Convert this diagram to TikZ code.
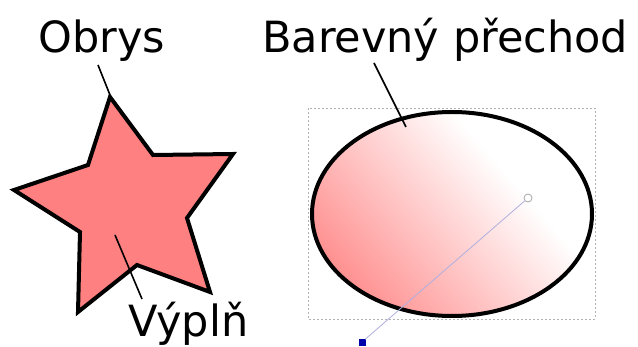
\documentclass[tikz,border=0pt]{standalone}
\usepackage{fontspec}
\setmainfont{DejaVu Sans}
\definecolor{starpink}{RGB}{255,128,128}
\definecolor{handleline}{RGB}{175,175,225}
\definecolor{handleblue}{RGB}{0,0,170}
\tikzset{
	lbl/.style={inner sep=0pt, anchor=base west, font=\fontsize{43}{50}\selectfont},
	outline/.style={line width=4pt, line join=miter},
	leader/.style={line width=1.6pt},
	selbox/.style={gray!60, line width=0.8pt, dash pattern=on 2pt off 2pt},
}
\begin{document}
\begin{tikzpicture}[x=1pt,y=-1pt]
	\useasboundingbox (0,0) rectangle (638,347);
	\filldraw[fill=starpink, outline] (110,97) -- (153,155) -- (233,154) -- (187,218) -- (210,292) -- (137,265) -- (78,312) -- (80,232) -- (14,190) -- (88,165) -- cycle;
	\draw[selbox] (308,108) rectangle (595,319);
	\begin{scope}
		\clip (452,214) ellipse [x radius=140, y radius=102];
		\fill[white] (300,100) rectangle (600,330);
		\begin{scope}[transform canvas={shift={(362,342)}, rotate=41}]
			\fill[starpink] (-300,-300) rectangle (0,300);
			\shade[left color=starpink, right color=white] (0,-300) rectangle (220,300);
		\end{scope}
	\end{scope}
	\draw[outline] (452,214) ellipse [x radius=140, y radius=102];
	\node[lbl] (obrys) at (38,53) {Obrys};
	\node[lbl] (barevny) at (262,53) {Barevný přechod};
	\node[lbl] (vypln) at (128,337) {Výplň};
	\coordinate (obrysfrom) at (98,65);
	\coordinate (obrystip) at (110,95);
	\coordinate (barevnyfrom) at (374,63);
	\coordinate (barevnyend) at (406,127);
	\coordinate (vyplnfrom) at (142,299);
	\coordinate (vyplnend) at (115,235);
	\draw[leader] (obrysfrom) -- (obrystip);
	\draw[leader] (barevnyfrom) -- (barevnyend);
	\draw[leader] (vyplnfrom) -- (vyplnend);
	\node[draw=handleblue, fill=handleblue, minimum size=6pt, inner sep=0pt] (gradstart) at (362,342) {};
	\node[circle, draw=gray!70, fill=white, minimum size=8pt, inner sep=0pt, line width=0.8pt] (gradend) at (528,198) {};
	\draw[handleline, line width=0.8pt] (gradstart) -- (gradend);
\end{tikzpicture}
\end{document}
